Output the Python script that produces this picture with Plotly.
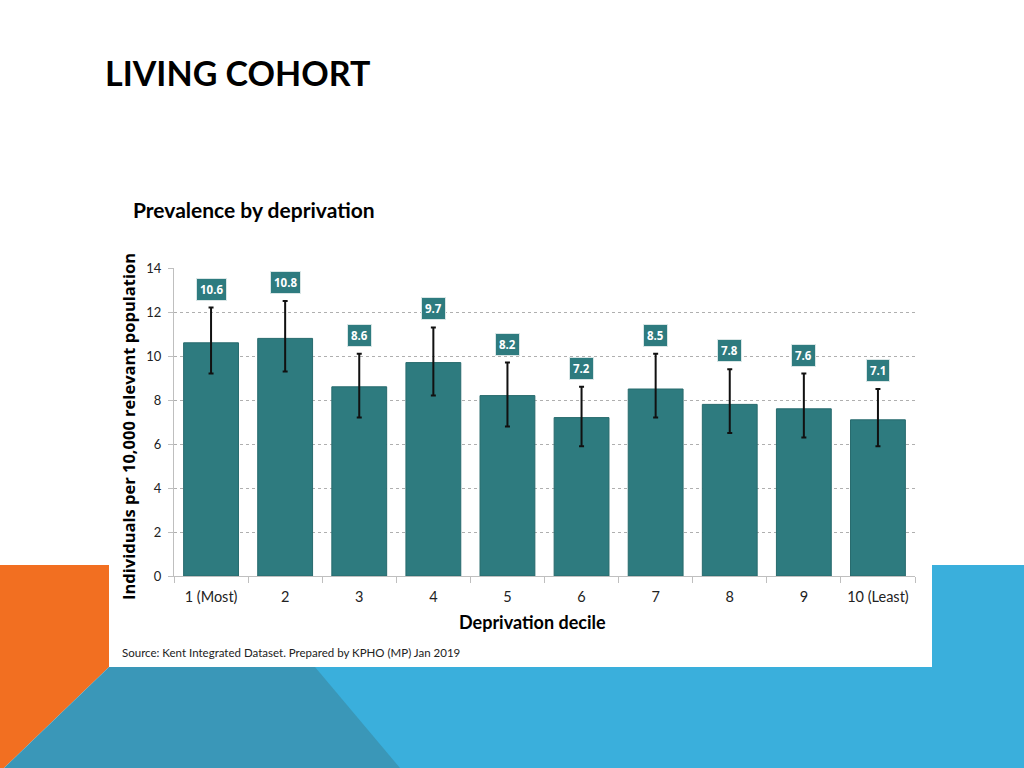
import plotly.graph_objects as go

W, H = 1024, 768

categories = ["1 (Most)", "2", "3", "4", "5", "6", "7", "8", "9", "10 (Least)"]
values = [10.6, 10.8, 8.6, 9.7, 8.2, 7.2, 8.5, 7.8, 7.6, 7.1]
upper_ci = [12.2, 12.5, 10.1, 11.3, 9.7, 8.6, 10.1, 9.4, 9.2, 8.5]
lower_ci = [9.2, 9.3, 7.2, 8.2, 6.8, 5.9, 7.2, 6.5, 6.3, 5.9]
y_ticks = [0, 2, 4, 6, 8, 10, 12, 14]

BAR = "#2E7B7F"
FONT_BODY = "Lato"
FONT_BOLD = "Open Sans"


def px(x):
    return x / W


def py(y):
    return 1 - y / H


err_plus = [u - v for u, v in zip(upper_ci, values)]
err_minus = [v - l for v, l in zip(values, lower_ci)]

fig = go.Figure()
fig.add_trace(go.Bar(
    x=categories, y=values,
    marker=dict(color=BAR, line=dict(color="#276A6D", width=1)),
    error_y=dict(type="data", symmetric=False, array=err_plus, arrayminus=err_minus,
                 color="#111111", thickness=2, width=2.5),
    hoverinfo="x+y",
))

# value labels in boxes above error bars (x given as category index)
for i, (v, u) in enumerate(zip(values, upper_ci)):
    fig.add_annotation(
        x=i, y=u, xref="x", yref="y", text=f"<b>{v:.1f}</b>", showarrow=False,
        yanchor="bottom", yshift=7, bgcolor=BAR, borderpad=3,
        bordercolor="#D9E6E6", borderwidth=1,
        font=dict(family=FONT_BOLD, size=11.5, color="white"),
    )

shapes = [
    # light blue block (bottom band, right side)
    dict(type="path", path=f"M {px(250)} {py(565)} L 1 {py(565)} L 1 {py(768)} L {px(250)} {py(768)} Z",
         xref="paper", yref="paper", fillcolor="#3AAFDC", line=dict(width=0), layer="below"),
    # orange block bottom-left
    dict(type="path", path=f"M 0 {py(565)} L {px(200)} {py(565)} L {px(200)} {py(667)} L {px(109)} {py(667)} L {px(4)} {py(768)} L 0 {py(768)} Z",
         xref="paper", yref="paper", fillcolor="#F26F21", line=dict(width=0), layer="below"),
    # dark teal-blue trapezoid
    dict(type="path", path=f"M {px(109)} {py(667)} L {px(315)} {py(667)} L {px(400)} {py(768)} L {px(4)} {py(768)} Z",
         xref="paper", yref="paper", fillcolor="#3A97B8", line=dict(width=0), layer="below"),
    # white chart panel
    dict(type="rect", x0=px(109), x1=px(932), y0=py(667), y1=py(235),
         xref="paper", yref="paper", fillcolor="white", line=dict(width=0), layer="below"),
]

annotations_extra = [
    dict(text="<b>LIVING COHORT</b>", x=px(103), y=py(72), xanchor="left", yanchor="middle",
         font=dict(family=FONT_BODY, size=34, color="#000000")),
    dict(text="<b>Prevalence by deprivation</b>", x=px(131), y=py(209), xanchor="left", yanchor="middle",
         font=dict(family=FONT_BODY, size=21, color="#000000")),
    dict(text="<b>Individuals per 10,000 relevant population</b>", x=px(128), y=py(427),
         xanchor="center", yanchor="middle", textangle=-90,
         font=dict(family=FONT_BOLD, size=16.5, color="#000000")),
    dict(text="<b>Deprivation decile</b>", x=px(532), y=py(622), xanchor="center", yanchor="middle",
         font=dict(family=FONT_BODY, size=18, color="#000000")),
    dict(text="Source: Kent Integrated Dataset. Prepared by KPHO (MP) Jan 2019", x=px(120), y=py(652),
         xanchor="left", yanchor="middle",
         font=dict(family=FONT_BODY, size=11.5, color="#222222")),
]
for a in annotations_extra:
    fig.add_annotation(xref="paper", yref="paper", showarrow=False, **a)

fig.update_layout(
    width=W, height=H,
    margin=dict(l=0, r=0, t=0, b=0, pad=0, autoexpand=False),
    paper_bgcolor="white",
    plot_bgcolor="rgba(0,0,0,0)",
    showlegend=False,
    bargap=0.26,
    shapes=shapes,
    xaxis=dict(
        domain=[px(174), px(915)],
        type="category",
        automargin=False,
        tickson="boundaries",
        ticks="outside", ticklen=6, tickcolor="#BFBFBF",
        ticklabelstandoff=8,
        showline=True, linecolor="#BFBFBF", linewidth=1,
        showgrid=False,
        tickfont=dict(family=FONT_BODY, size=14.5, color="#222222"),
    ),
    yaxis=dict(
        domain=[py(576), py(268)],
        range=[0, 14],
        automargin=False,
        tickvals=y_ticks,
        ticks="outside", ticklen=5, tickcolor="#BFBFBF",
        ticklabelstandoff=4,
        showline=True, linecolor="#BFBFBF", linewidth=1,
        showgrid=True, gridcolor="#AFAFAF", griddash="3px,3px", gridwidth=1,
        zeroline=False,
        tickfont=dict(family=FONT_BODY, size=13, color="#222222"),
    ),
)

fig.write_html(
    "out.html",
    config={"displayModeBar": False},
    post_script="document.body.style.margin='0';document.body.style.overflow='hidden';",
)
